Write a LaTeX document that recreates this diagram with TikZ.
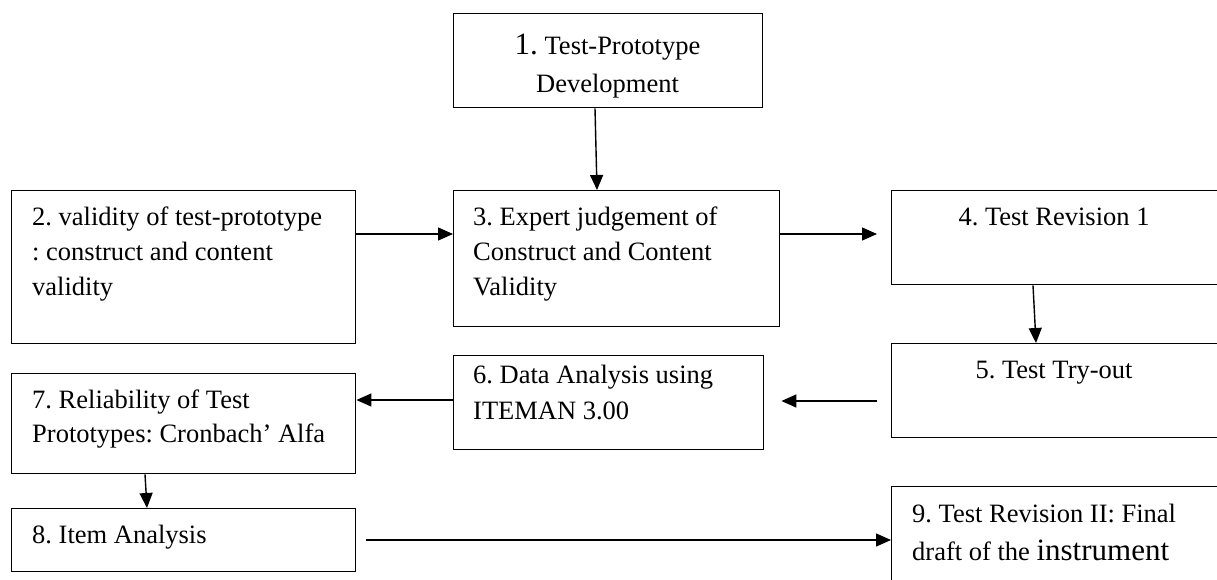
\documentclass[tikz,border=0pt]{standalone}
\usepackage{fontspec}
\setmainfont{Liberation Serif}
\usetikzlibrary{arrows.meta}
\newcommand{\fstrut}{\rule{0pt}{24pt}}
\frenchspacing
\begin{document}
\frenchspacing
\begin{tikzpicture}[x=1pt,y=-1pt,
  box/.style={draw, line width=1.4pt, inner sep=0pt, anchor=north west},
  lbl/.style={inner sep=0pt, anchor=north west, align=left, font=\fontsize{26.5}{35}\selectfont},
  clbl/.style={inner sep=0pt, anchor=north, align=center, font=\fontsize{26.5}{35}\selectfont},
  arr/.style={line width=1.4pt, -{Triangle[length=15pt,width=13pt]}}]
\useasboundingbox (0,0) rectangle (1217,580);
\clip (0,0) rectangle (1217,580);
% boxes
\node[box, minimum width=309pt, minimum height=94pt]  (b1) at (453,13)  {};
\node[box, minimum width=344pt, minimum height=153pt] (b2) at (11,190)  {};
\node[box, minimum width=326pt, minimum height=136pt] (b3) at (453,190) {};
\node[box, minimum width=340pt, minimum height=94pt]  (b4) at (891,190) {};
\node[box, minimum width=340pt, minimum height=94pt]  (b5) at (891,343) {};
\node[box, minimum width=310pt, minimum height=94pt]  (b6) at (453,355) {};
\node[box, minimum width=344pt, minimum height=100pt] (b7) at (11,373)  {};
\node[box, minimum width=344pt, minimum height=63pt]  (b8) at (11,508)  {};
\node[box, minimum width=340pt, minimum height=110pt] (b9) at (891,486) {};
% texts
\node[clbl, font=\fontsize{26.5}{38}\selectfont] (t1) at (607.5,30)
  {\fstrut{\fontsize{31}{38}\selectfont 1.} Test-Prototype\\Development};
\node[lbl] (t2) at (32,201) {\fstrut 2. validity of test-prototype\\: construct and content\\validity};
\node[lbl] (t3) at (473,201) {\fstrut 3. Expert judgement of\\Construct and Content\\Validity};
\node[clbl] (t4) at (1054,201) {\fstrut 4. Test Revision 1};
\node[clbl] (t5) at (1054,354) {\fstrut 5. Test Try-out};
\node[lbl, font=\fontsize{26.5}{36}\selectfont] (t6) at (473,359) {\fstrut 6. Data Analysis using\\ITEMAN 3.00};
\node[lbl, font=\fontsize{26.5}{34}\selectfont] (t7) at (32,384) {\fstrut 7. Reliability of Test\\Prototypes: Cronbach’ Alfa};
\node[lbl] (t8) at (32,519) {\fstrut 8. Item Analysis};
\node[lbl, font=\fontsize{26.5}{38}\selectfont] (t9) at (912,498)
  {\fstrut 9. Test Revision II: Final\\draft of the {\fontsize{31}{38}\selectfont instrument}};
% connectors
\draw[arr] ([xshift=142pt]b1.south west) -- ([xshift=144pt]b3.north west);
\draw[arr] ([yshift=-44pt]b2.north east) -- ([yshift=-44pt]b3.north west);
\draw[arr] ([yshift=-44pt]b3.north east) -- ([xshift=-14pt,yshift=-44pt]b4.north west);
\draw[arr] ([xshift=142pt]b4.south west) -- ([xshift=145pt]b5.north west);
\draw[arr] ([xshift=-14pt,yshift=-58pt]b5.north west) -- ([xshift=17pt,yshift=-46pt]b6.north east);
\draw[arr] ([yshift=-45pt]b6.north west) -- ([yshift=-27pt]b7.north east);
\draw[arr] ([xshift=134pt]b7.south west) -- ([xshift=136pt]b8.north west);
\draw[arr] ([xshift=10pt,yshift=-32pt]b8.north east) -- ([yshift=-54pt]b9.north west);
\end{tikzpicture}
\end{document}
